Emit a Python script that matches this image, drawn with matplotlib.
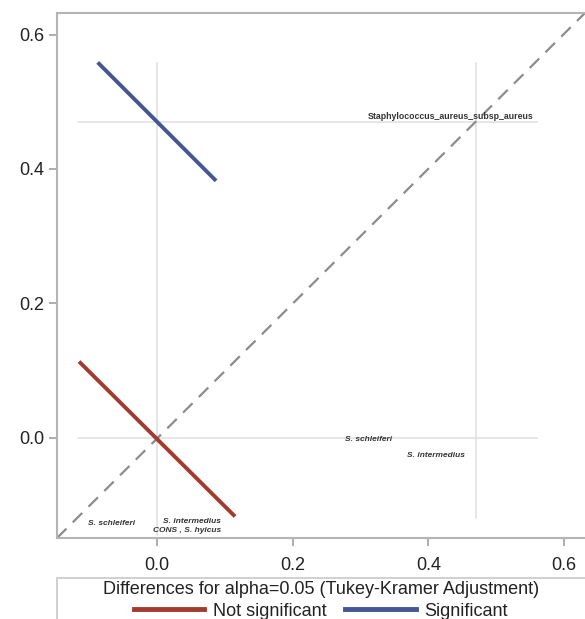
import matplotlib.pyplot as plt
from matplotlib.patches import Rectangle
from matplotlib.lines import Line2D

plt.rcParams['font.family'] = ['Liberation Sans', 'DejaVu Sans']

# LS-mean reference lines
ref_means = [0.0, 0.47]

# comparison segments (diffogram)
notsig_x = [-0.115, 0.115]
notsig_y = [0.1135, -0.117]
sig_x = [-0.0875, 0.087]
sig_y = [0.5585, 0.3824]

# group labels along the bottom and the right side
bottom_labels = ['S. schleiferi', 'S. intermedius', 'CONS , S. hyicus']
bottom_x = [-0.033, 0.094, 0.094]
bottom_y = [-0.128, -0.125, -0.138]
right_labels = ['Staphylococcus_aureus_subsp_aureus', 'S. schleiferi', 'S. intermedius']
right_x = [0.555, 0.347, 0.454]
right_y = [0.478, -0.003, -0.027]
right_style = ['normal', 'italic', 'italic']

ticks = [0.0, 0.2, 0.4, 0.6]
xlim = (-0.1475, 0.631)
ylim = (-0.149, 0.632)

red = '#A23A2E'
blue = '#445694'

fig = plt.figure(figsize=(5.85, 6.19), dpi=100)
ax = fig.add_axes([57 / 585, 81 / 619, 1 - 57 / 585, (538 - 13) / 619])

# reference lines
ax.plot([ref_means[0], ref_means[0]], [-0.144, 0.558], color='#e2e2e2', lw=1.2, zorder=1)
ax.plot([ref_means[1], ref_means[1]], [-0.119, 0.558], color='#e2e2e2', lw=1.2, zorder=1)
for m in ref_means:
    ax.plot([-0.117, 0.56], [m, m], color='#e2e2e2', lw=1.2, zorder=1)

# diagonal
ax.plot(xlim, ylim, color='#8c8c8c', lw=1.6, ls=(0, (6, 4)), zorder=2)

ax.plot(notsig_x, notsig_y, color=red, lw=2.8, zorder=3, solid_capstyle='butt')
ax.plot(sig_x, sig_y, color=blue, lw=2.8, zorder=3, solid_capstyle='butt')

for lab, x, y in zip(bottom_labels, bottom_x, bottom_y):
    ax.text(x, y, lab, fontsize=6.0, fontweight='bold', fontstyle='italic',
            color='#333333', ha='right', va='center')
for lab, x, y, st in zip(right_labels, right_x, right_y, right_style):
    ax.text(x, y, lab, fontsize=6.3 if st == 'normal' else 6.0, fontweight='bold',
            fontstyle=st, color='#333333', ha='right', va='center')

ax.set_xlim(xlim)
ax.set_ylim(ylim)
ax.set_xticks(ticks)
ax.set_yticks(ticks)
ax.set_xticklabels([f'{t:.1f}' for t in ticks])
ax.set_yticklabels([f'{t:.1f}' for t in ticks])
ax.tick_params(axis='both', length=5.5, width=1.2, color='#a0a0a0',
               labelsize=13, labelcolor='#222222')
ax.tick_params(axis='x', pad=8)
ax.tick_params(axis='y', pad=3.5)
ax.spines['right'].set_visible(False)
for s in ['left', 'top', 'bottom']:
    ax.spines[s].set_color('#b4b4b4')
    ax.spines[s].set_linewidth(1.5)

# legend box
fig.patches.append(Rectangle((57 / 585, -0.05), 1.0, (619 - 578) / 619 + 0.05,
                             transform=fig.transFigure, fill=False,
                             edgecolor='#c8c8c8', lw=1.2))
fig.text(321 / 585, (619 - 589) / 619, 'Differences for alpha=0.05 (Tukey-Kramer Adjustment)',
         ha='center', va='center', fontsize=13, color='#222222')
handles = [Line2D([], [], color=red, lw=3.5), Line2D([], [], color=blue, lw=3.5)]
fig.legend(handles, ['Not significant', 'Significant'], ncol=2, frameon=False,
           loc='center', bbox_to_anchor=(321 / 585, (619 - 611) / 619),
           fontsize=13, handlelength=3.9, columnspacing=1.0, handletextpad=0.5,
           labelcolor='#222222', borderpad=0)

fig.savefig('out.png', dpi=100)
